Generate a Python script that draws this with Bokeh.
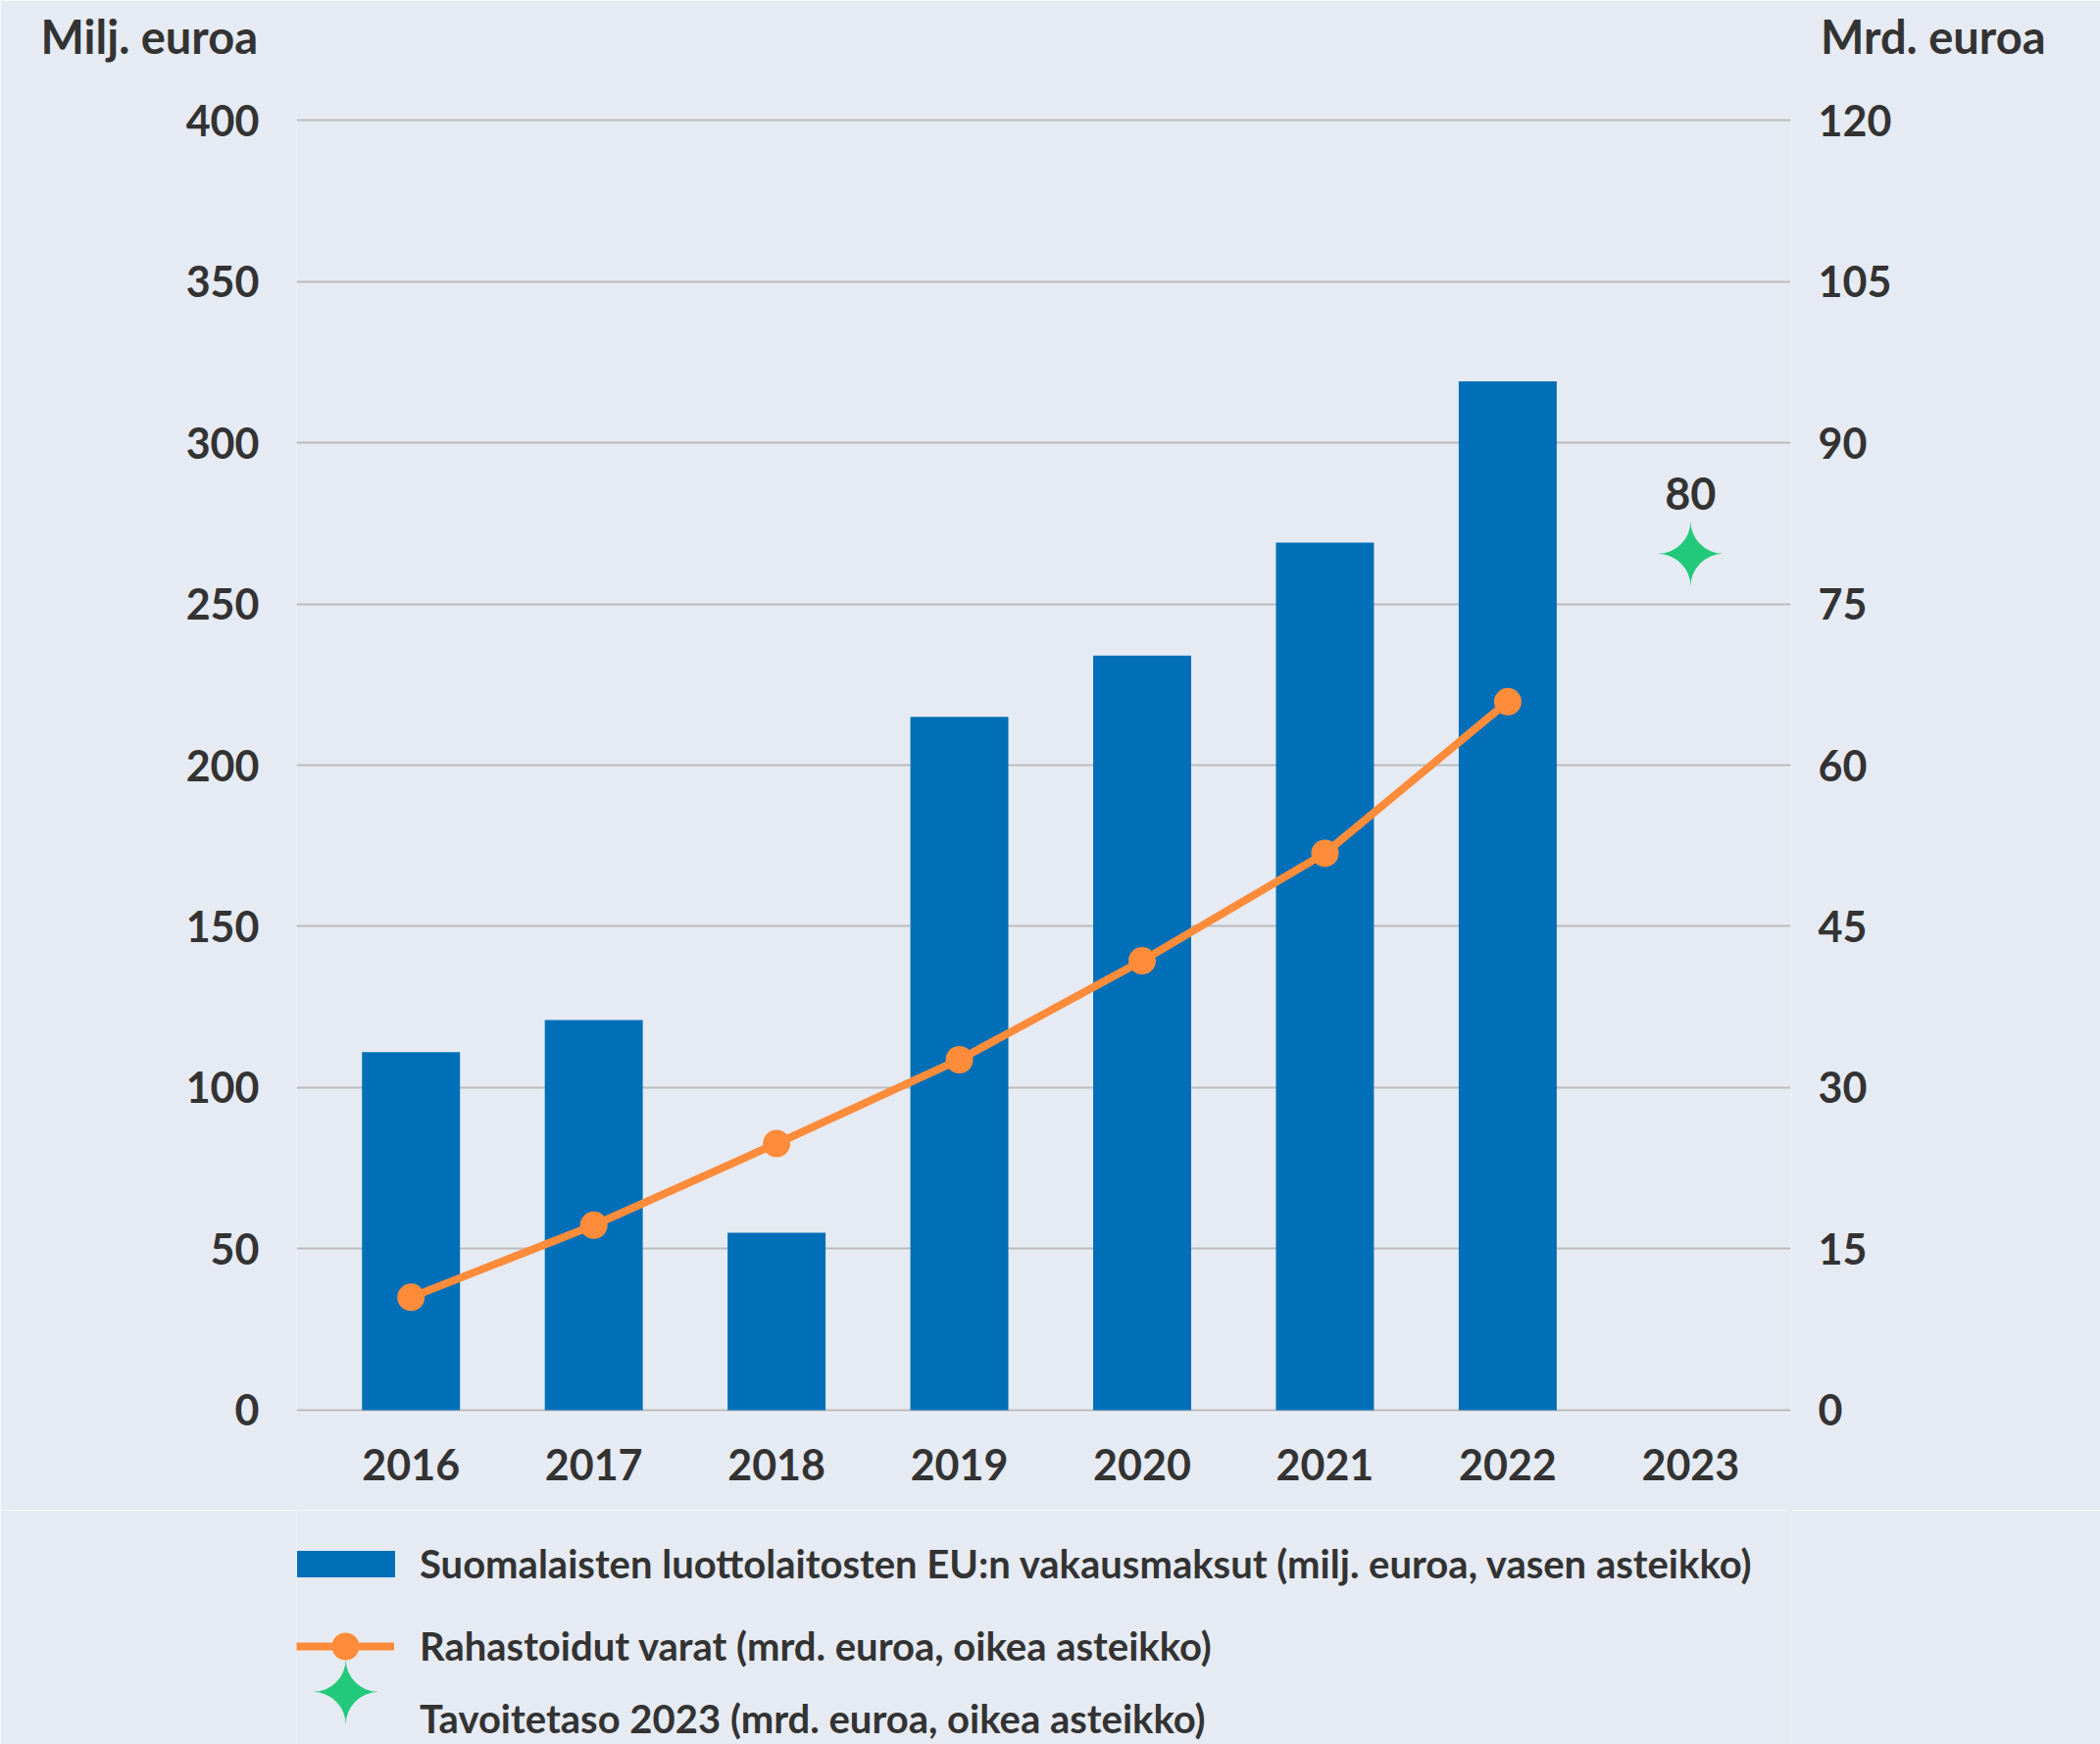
from bokeh.plotting import figure
from bokeh.layouts import column
from bokeh.models import Range1d, LinearAxis, FixedTicker, Legend, LegendItem, Label
from bokeh.core.properties import value
from bokeh.embed import file_html
from bokeh.resources import INLINE

# ---- data ----
years = [2016, 2017, 2018, 2019, 2020, 2021, 2022]
axis_years = [2016, 2017, 2018, 2019, 2020, 2021, 2022, 2023]
fees = [111, 121, 55, 215, 234, 269, 319]          # milj. euroa (left)
funds = [10.5, 17.2, 24.8, 32.6, 41.8, 51.8, 65.9]  # mrd. euroa (right)
target_year = [2023]
target = [80]                                       # mrd. euroa (right)
left_ticks = [0, 50, 100, 150, 200, 250, 300, 350, 400]
right_ticks = [0, 15, 30, 45, 60, 75, 90, 105, 120]
left_title = "Milj. euroa"
right_title = "Mrd. euroa"
label_fees = "Suomalaisten luottolaitosten EU:n vakausmaksut (milj. euroa, vasen asteikko)"
label_funds = "Rahastoidut varat (mrd. euroa, oikea asteikko)"
label_target = "Tavoitetaso 2023 (mrd. euroa, oikea asteikko)"
STAR = "\u2726"

# ---- style ----
BG = "#E6EBF3"
BLUE = "#006FB8"
ORANGE = "#FF8C3B"
GREEN = "#22C97A"
TXT = "#333333"
GRID = "#BBBBBB"
FONT = "Lato"

W, H1, H2 = 2142, 1540, 239
p = figure(width=W, height=H1, output_backend="svg", toolbar_location=None,
           x_range=Range1d(2015.374, 2023.548), y_range=Range1d(-0.608, 400.608),
           min_border_left=302, min_border_right=W - 1826, min_border_top=120,
           min_border_bottom=H1 - 1440,
           background_fill_color=BG, border_fill_color=BG, outline_line_color=None)
p.extra_y_ranges = {"right": Range1d(-0.1824, 120.1824)}

# grid
p.xgrid.visible = False
p.ygrid.ticker = FixedTicker(ticks=left_ticks)
p.ygrid.grid_line_color = GRID
p.ygrid.grid_line_width = 2

def style_axis(ax, standoff):
    ax.axis_line_color = None
    ax.major_tick_line_color = None
    ax.minor_tick_line_color = None
    ax.major_label_standoff = standoff
    ax.major_label_text_font = FONT
    ax.major_label_text_font_style = "bold"
    ax.major_label_text_font_size = "43px"
    ax.major_label_text_color = TXT

p.xaxis.ticker = FixedTicker(ticks=axis_years)
style_axis(p.xaxis[0], 31)
p.yaxis.ticker = FixedTicker(ticks=left_ticks)
style_axis(p.yaxis[0], 32)

rax = LinearAxis(y_range_name="right", ticker=FixedTicker(ticks=right_ticks))
style_axis(rax, 22)
p.add_layout(rax, "right")

# marks
bar_kw = dict(fill_color=BLUE, line_color=None)
line_kw = dict(line_color=ORANGE, line_width=8)
dot_kw = dict(fill_color=ORANGE, line_color=None)
star_kw = dict(text_font=value("DejaVu Sans"), text_font_size="88px",
               text_color=GREEN, text_align="center", text_baseline="middle")

p.vbar(x=years, top=fees, width=0.536, **bar_kw)
p.line(years, funds, y_range_name="right", **line_kw)
p.scatter(years, funds, y_range_name="right", size=28, **dot_kw)
p.text(x=target_year, y=target, text=[STAR] * len(target), y_range_name="right",
       y_offset=5, **star_kw)
p.text(x=target_year, y=target, text=[str(v) for v in target], y_range_name="right",
       y_offset=-58, text_font=value(FONT), text_font_style="bold",
       text_font_size="45px", text_color=TXT, text_align="center",
       text_baseline="middle")

# axis titles (side panels above the frame)
p.add_layout(Label(x=-261, y=84, x_units="screen", y_units="screen", text=left_title,
                   text_font=FONT, text_font_style="bold", text_font_size="47px",
                   text_color=TXT, text_align="left", text_baseline="middle"), "above")
p.add_layout(Label(x=1784, y=28, x_units="screen", y_units="screen", text=right_title,
                   text_font=FONT, text_font_style="bold", text_font_size="47px",
                   text_color=TXT, text_align="right", text_baseline="middle"), "above")

# ---- legend strip (its frame is aligned with the chart frame) ----
# ranges chosen so the proxy series lie completely outside (never visible)
lf = figure(width=W, height=H2, output_backend="svg", toolbar_location=None,
            x_range=Range1d(-2, -1), y_range=Range1d(-2, -1),
            x_axis_type=None, y_axis_type=None, min_border=0,
            background_fill_color=BG, border_fill_color=BG, outline_line_color=None)
lf.grid.visible = False

r_bar = lf.vbar(x=years, top=fees, bottom=[v / 2 for v in fees], width=0.536, **bar_kw)
r_line = lf.line(years, funds, **line_kw)
r_dot = lf.scatter(years, funds, size=28, **dot_kw)
r_star = lf.text(x=[], y=[], text=[], **star_kw)

def mk_legend(label, renderers, loc, gw, gh, lh, standoff):
    lg = Legend(items=[LegendItem(label=label, renderers=renderers)],
                location=loc, orientation="vertical",
                glyph_width=gw, glyph_height=gh, label_height=lh,
                label_standoff=standoff, padding=0, margin=0, spacing=0,
                background_fill_alpha=0, border_line_alpha=0,
                label_text_font=FONT, label_text_font_style="bold",
                label_text_font_size="40px", label_text_color=TXT)
    lf.add_layout(lg)
    return lg

mk_legend(label_fees, [r_bar], (-12, 160), 125, 34, 48, 13)
mk_legend(label_funds, [r_line, r_dot], (0, 65), 100, 70, 48, 26)
mk_legend(label_target, [r_star], (0, 2), 100, 48, 48, 26)
lf.add_layout(Label(x=50, y=52, x_units="screen", y_units="screen", text=STAR,
                    text_font="DejaVu Sans", text_font_size="88px", text_color=GREEN,
                    text_align="center", text_baseline="middle"))

open("out.html", "w").write(file_html(column(p, lf, spacing=0), INLINE))
